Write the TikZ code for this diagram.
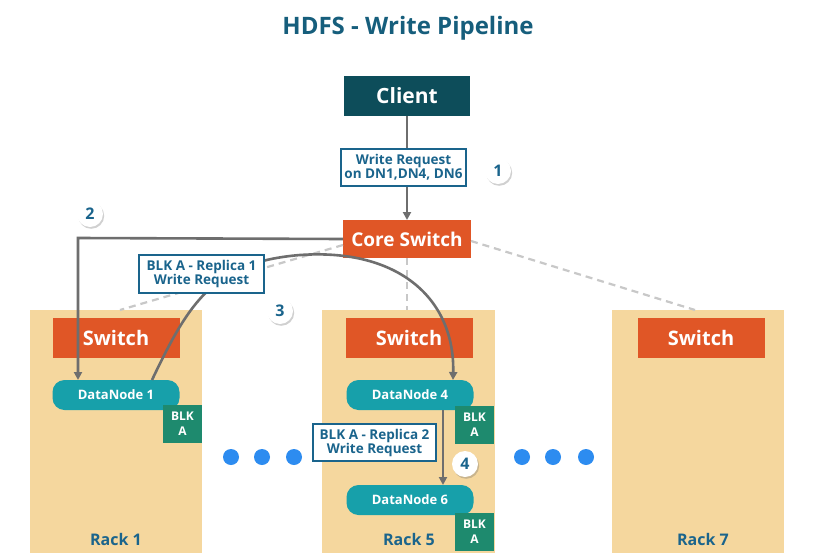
\documentclass[tikz,border=0pt]{standalone}
\usepackage{fontspec}
\setmainfont{Open Sans}
\usetikzlibrary{arrows.meta,shadows}
\definecolor{titleblue}{RGB}{22,94,124}
\definecolor{clientc}{RGB}{13,77,90}
\definecolor{orangec}{RGB}{224,86,38}
\definecolor{rackc}{RGB}{245,215,158}
\definecolor{dnc}{RGB}{23,160,170}
\definecolor{blkc}{RGB}{30,138,110}
\definecolor{lblue}{RGB}{26,100,140}
\definecolor{linec}{RGB}{110,110,110}
\definecolor{dashc}{RGB}{200,200,200}
\definecolor{dotc}{RGB}{45,140,240}
\tikzset{
  box/.style={inner sep=0pt,outer sep=0pt,text=white,font=\bfseries},
  switchbox/.style={box,fill=orangec,minimum width=127pt,minimum height=40pt,font=\bfseries\fontsize{20}{22}\selectfont},
  dnbox/.style={box,fill=dnc,rounded corners=12pt,minimum width=127pt,minimum height=30pt,font=\bfseries\fontsize{13}{15}\selectfont},
  blkbox/.style={box,fill=blkc,minimum width=39pt,minimum height=38pt,align=center,font=\bfseries\fontsize{12}{15}\selectfont},
  reqbox/.style={fill=white,draw=lblue,line width=1.6pt,text=lblue,align=center,inner sep=0pt,font=\bfseries\fontsize{13.5}{15}\selectfont},
  stepnum/.style={circle,fill=white,minimum size=26pt,inner sep=0pt,text=lblue,font=\bfseries\fontsize{16}{18}\selectfont,drop shadow={shadow xshift=1.2pt,shadow yshift=-1.8pt,opacity=0.3,fill=black!60}},
  conn/.style={draw=linec,line width=2.6pt,-{Triangle[length=8pt,width=8pt]}},
  dashconn/.style={draw=dashc,line width=2.2pt,dash pattern=on 7pt off 5pt},
  racklabel/.style={text=lblue,font=\bfseries\fontsize{16}{18}\selectfont},
  dotnode/.style={circle,fill=dotc,minimum size=16pt,inner sep=0pt}
}
\begin{document}
\begin{tikzpicture}[x=1pt,y=-1pt]
\useasboundingbox (0,0) rectangle (815,560);
\fill[white] (0,0) rectangle (815,560);
% title
\node[text=titleblue,font=\bfseries\fontsize{24}{26}\selectfont] (title) at (408,28) {HDFS - Write Pipeline};
% racks
\fill[rackc] (30,310) rectangle (202,553);
\fill[rackc] (322,310) rectangle (495,553);
\fill[rackc] (612,310) rectangle (784,553);
\coordinate (r1top) at (120,310);
\coordinate (r5top) at (407,310);
\coordinate (r7top) at (695,310);
% core switch and client
\node[box,fill=clientc,minimum width=126pt,minimum height=40pt,font=\bfseries\fontsize{21}{23}\selectfont] (client) at (407,96) {Client};
\node[box,fill=orangec,minimum width=128pt,minimum height=38pt,font=\bfseries\fontsize{19}{21}\selectfont] (core) at (407,239) {Core Switch};
% dashed links
\draw[dashconn] ([yshift=-6pt]core.west) -- (r1top);
\draw[dashconn] (core.south) -- (r5top);
\draw[dashconn] ([yshift=-2pt]core.east) -- (r7top);
% switches
\node[switchbox] (sw1) at (116,338) {Switch};
\node[switchbox] (sw5) at (409,338) {Switch};
\node[switchbox] (sw7) at (701,338) {Switch};
% datanodes
\node[dnbox] (dn1) at (116,395) {DataNode 1};
\node[dnbox] (dn4) at (410,395) {DataNode 4};
\node[dnbox] (dn6) at (410,500) {DataNode 6};
\node[blkbox] (b1) at (182.5,424) {BLK\\A};
\node[blkbox] (b4) at (474.5,424.5) {BLK\\A};
\node[blkbox] (b6) at (474.5,531.5) {BLK\\A};
% rack labels
\node[racklabel] (rl1) at (116,539) {Rack 1};
\node[racklabel] (rl5) at (409,539) {Rack 5};
\node[racklabel] (rl7) at (703,539) {Rack 7};
% connector 1
\draw[conn] (client.south) -- (core.north);
\node[reqbox,minimum width=125pt,minimum height=37pt] (req1) at (403.5,167.5) {Write Request\\[-1pt]on DN1,DN4, DN6};
% connector 2
\coordinate (c2) at (78,238);
\draw[conn] (core.west) -- (c2) -- (dn1.north -| c2);
% connector 3
\draw[conn] ([xshift=36pt]dn1.north) .. controls (190,300) and (215,262) .. (300,255) .. controls (400,248) and (455,300) .. ([xshift=43pt]dn4.north);
\node[reqbox,minimum width=125pt,minimum height=38pt] (req2) at (201.5,274) {BLK A - Replica 1\\[-1pt]Write Request};
% connector 4
\draw[conn] ([xshift=33pt]dn4.south) -- ([xshift=33pt]dn6.north);
\node[reqbox,minimum width=123pt,minimum height=37pt] (req3) at (374.5,442.5) {BLK A - Replica 2\\[-1pt]Write Request};
% step numbers
\node[stepnum] (n1) at (498,171) {1};
\node[stepnum] (n2) at (90,214) {2};
\node[stepnum] (n3) at (280,311) {3};
\node[stepnum] (n4) at (465,464) {4};
% dots
\node[dotnode] (d1) at (231,457) {};
\node[dotnode] (d2) at (262,457) {};
\node[dotnode] (d3) at (294,457) {};
\node[dotnode] (d4) at (522,457) {};
\node[dotnode] (d5) at (553,457) {};
\node[dotnode] (d6) at (586,457) {};
\end{tikzpicture}
\end{document}
